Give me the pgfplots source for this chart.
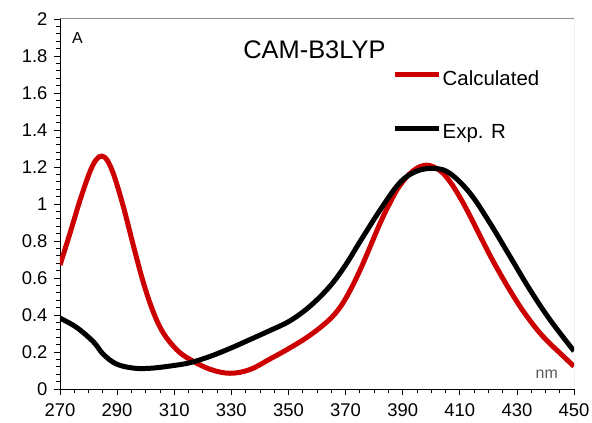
\documentclass[border=0pt]{standalone}
\usepackage{pgfplots}
\pgfplotsset{compat=1.18}
\usepackage{fontspec}
\setmainfont{Liberation Sans}
\definecolor{calcred}{RGB}{204,0,0}
\definecolor{framegray}{RGB}{140,140,140}
\definecolor{nmgray}{RGB}{90,90,90}
\begin{document}
\begin{tikzpicture}
\begin{axis}[
  scale only axis,
  width=514bp, height=370bp,
  xmin=270, xmax=450, ymin=0, ymax=2,
  xtick={270,290,...,450},
  ytick={0,0.2,...,2.01},
  minor x tick num=3,
  minor y tick num=4,
  axis x line*=bottom,
  axis y line*=left,
  axis line style={black, line width=0.8bp, -},
  tick align=outside,
  major tick length=6bp,
  minor tick length=4bp,
  tick style={black, line width=0.7bp},
  every tick label/.append style={font=\fontsize{18.5}{20}\selectfont},
  /pgf/number format/assume math mode=true,
  /pgf/number format/fixed,
  yticklabel style={xshift=-3bp},
  xticklabel style={yshift=-5bp},
  legend style={draw=none, fill=none, inner sep=0pt,
    at={(axis description cs:0.646,0.862)}, anchor=north west,
    font=\fontsize{20.5}{22}\selectfont,
    row sep=38bp,
    nodes={inner xsep=1.5bp, inner ysep=0pt}},
  legend cell align=left,
  legend image code/.code={\draw[#1] (0bp,0.35em) -- (44bp,0.35em);},
  clip=true,
]
\addplot[calcred, line width=5bp, smooth, tension=0.6] coordinates {
(270,0.67) (273.5,0.842) (277,1.02) (280.5,1.175) (282.7,1.24) (284.6,1.259)
(286.6,1.235) (289,1.15) (292.2,0.985) (295.7,0.775) (299.2,0.575) (302.7,0.415)
(306.2,0.302) (310.9,0.212) (315.5,0.16) (322.5,0.107) (329.5,0.085) (336.5,0.105)
(343.5,0.162) (350.5,0.222) (357.5,0.29) (364,0.37) (368,0.44) (371.5,0.53)
(375,0.64) (378.5,0.765) (382,0.893) (385.5,1.005) (389,1.10) (393.7,1.18)
(398.4,1.21) (403.1,1.18) (406.6,1.12) (410.1,1.035) (413.6,0.935) (417.1,0.828)
(420.6,0.722) (424.1,0.624) (427.6,0.532) (431.1,0.446) (434.6,0.37) (438.1,0.302)
(441.6,0.245) (445.1,0.194) (450,0.122)
};
\addlegendentry{Calculated}
\addplot[black, line width=5bp, smooth, tension=0.6] coordinates {
(270,0.383) (275.8,0.333) (281.7,0.255) (285.2,0.187) (289.8,0.135) (295.7,0.113)
(301.5,0.112) (308.5,0.124) (315.5,0.142) (322.5,0.176) (329.5,0.219) (336.5,0.267)
(343.5,0.316) (350.5,0.368) (357.5,0.447) (364.5,0.555) (370,0.67) (375,0.795)
(382,0.965) (389,1.115) (395,1.178) (401.3,1.192) (406.6,1.165) (413.6,1.058)
(420.6,0.896) (427.6,0.716) (434.6,0.536) (441.6,0.374) (450,0.205)
};
\addlegendentry{Exp. R}
\draw[framegray, line width=1bp] (rel axis cs:0,1) -- (rel axis cs:1,1) -- (rel axis cs:1,0);
\node[font=\fontsize{25.5}{27}\selectfont] at (axis description cs:0.495,0.916) {CAM-B3LYP};
\node[font=\fontsize{16}{17}\selectfont] at (axis description cs:0.034,0.948) {A};
\node[font=\fontsize{16}{17}\selectfont, text=nmgray] at (axis description cs:0.947,0.04) {nm};
\end{axis}
\pgfresetboundingbox
\useasboundingbox ([shift={(-60bp,-34bp)}]current axis.south west) rectangle ([shift={(18bp,19bp)}]current axis.north east);
\end{tikzpicture}
\end{document}
